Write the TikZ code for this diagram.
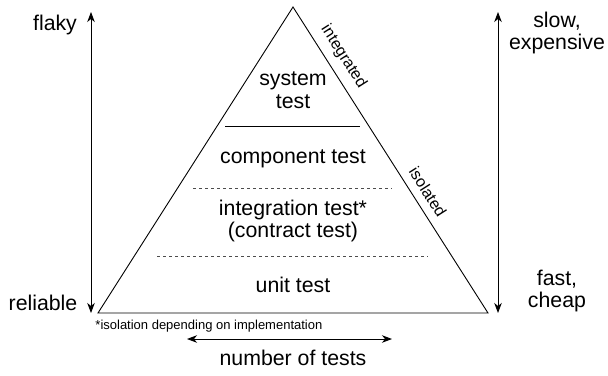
\documentclass[tikz,border=0pt]{standalone}
\usepackage{fontspec}
\setmainfont{Liberation Sans}
\usetikzlibrary{arrows.meta,calc,positioning}

\begin{document}
\begin{tikzpicture}[>={Stealth[length=10pt,width=7.5pt,inset=3pt]}, x=1pt, y=-1pt,
  line width=0.9pt,
  every node/.style={font=\fontsize{21.3}{22.5}\selectfont, align=center, inner sep=1pt},
  side/.style={font=\fontsize{16}{17}\selectfont, sloped, above=7pt},
  divider/.style={line width=0.8pt, dash pattern=on 3pt off 3pt, black!70}]
  \useasboundingbox (0,0) rectangle (608,375);
  % pyramid
  \coordinate (top) at (293,7);
  \coordinate (bl) at (98,313);
  \coordinate (br) at (488,313);
  \draw (top) -- (bl) -- (br) -- cycle;
  \path (top) -- (br)
    node[side, pos=0.19] (integ) {integrated}
    node[side, pos=0.63] (iso) {isolated};
  \draw[line width=0.8pt] (225,126) -- (360,126);
  \draw[divider] (193,188) -- (392,188);
  \draw[divider] (157,256) -- (428,256);
  \node (sys) at (293,90) {system\\test};
  \node (comp) at (293,159) {component test};
  \node (integr) at (293,221) {integration test*\\(contract test)};
  \node (unit) at (293,285) {unit test};
  \node[font=\fontsize{13}{14}\selectfont, anchor=west] (note) at (94,326)
    {*isolation depending on implementation};
  % axes
  \node (flaky) at (55,25) {flaky};
  \node (reliable) at (43,303) {reliable};
  \node (slow) at (557,33) {slow,\\expensive};
  \node (fast) at (557,291) {fast,\\cheap};
  \node (count) at (293,358) {number of tests};
  \coordinate (lt) at (91,12);
  \coordinate (lb) at (91,313);
  \coordinate (rt) at (498,12);
  \coordinate (rb) at (498,313);
  \coordinate (nl) at (187,339);
  \coordinate (nr) at (392,339);
  \draw[<->] (lt) -- (lb);
  \draw[<->] (rt) -- (rb);
  \draw[<->] (nl) -- (nr);
\end{tikzpicture}
\end{document}
